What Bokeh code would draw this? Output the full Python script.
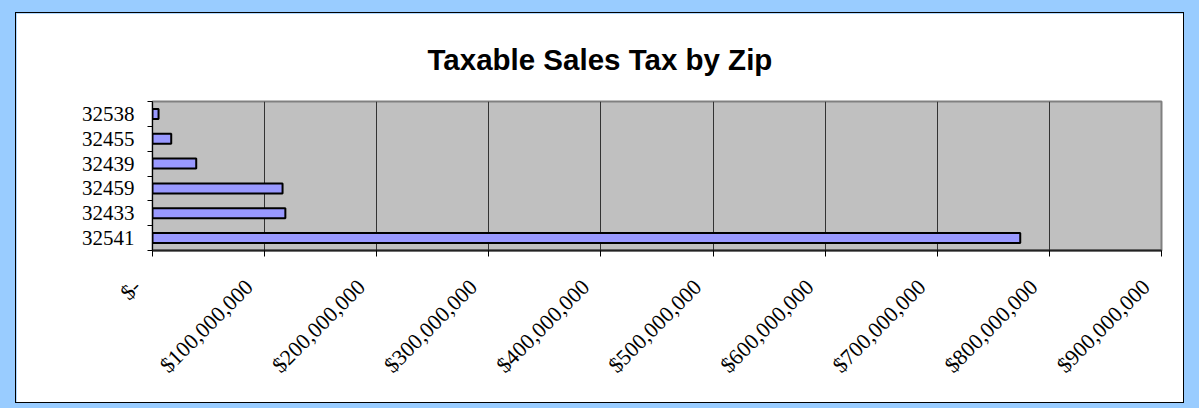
import math
from bokeh.plotting import figure
from bokeh.layouts import column
from bokeh.models import FixedTicker, Range1d, Title
from bokeh.embed import file_html
from bokeh.resources import INLINE

# ---- data ----
zips = ["32541", "32433", "32459", "32439", "32455", "32538"]
sales = [774_000_000, 118_500_000, 116_000_000, 39_000_000, 16_700_000, 5_400_000]
x_tick_values = [0, 100_000_000, 200_000_000, 300_000_000, 400_000_000,
                 500_000_000, 600_000_000, 700_000_000, 800_000_000, 900_000_000]
x_tick_labels = ["$-", "$100,000,000", "$200,000,000", "$300,000,000", "$400,000,000",
                 "$500,000,000", "$600,000,000", "$700,000,000", "$800,000,000", "$900,000,000"]
title_text = "Taxable Sales Tax by Zip"

ypos = [i + 0.5 for i in range(len(zips))]
ybounds = [i for i in range(len(zips) + 1)]

p = figure(width=1167, height=389, output_backend="svg", toolbar_location=None,
           x_range=Range1d(0, x_tick_values[-1]), y_range=Range1d(0, len(zips)),
           min_border_left=136, min_border_right=22, min_border_top=88, min_border_bottom=152)
p.title = Title(text=title_text, align="left", vertical_align="top", text_font="Liberation Sans",
                text_font_size="29.5px", text_font_style="bold", text_color="black",
                standoff=48, offset=275)
p.background_fill_color = "#C0C0C0"
p.border_fill_color = "white"
p.outline_line_color = "#808080"
p.outline_line_width = 2

p.hbar(y=ypos, right=sales, left=0, height=0.4, fill_color="#9999FF",
       line_color="black", line_width=2)

pad = "\u00a0" * 4
xt = FixedTicker(ticks=x_tick_values, minor_ticks=[])
p.xaxis.ticker = xt
p.xaxis.major_label_overrides = {v: l + pad for v, l in zip(x_tick_values, x_tick_labels)}
p.xaxis.major_label_orientation = math.pi / 4
p.xaxis.major_label_text_font = "Liberation Serif"
p.xaxis.major_label_text_font_size = "22px"
p.xaxis.major_label_text_color = "black"
p.xaxis.major_label_standoff = 11
p.xaxis.major_tick_out = 6
p.xaxis.major_tick_in = 0
p.xaxis.major_tick_line_color = "black"
p.xaxis.axis_line_color = "#222222"
p.xaxis.axis_line_width = 2
p.xaxis.minor_tick_line_color = None

yt = FixedTicker(ticks=ypos, minor_ticks=ybounds)
p.yaxis.ticker = yt
p.yaxis.major_label_overrides = {v: z for v, z in zip(ypos, zips)}
p.yaxis.major_label_text_font = "Liberation Serif"
p.yaxis.major_label_text_font_size = "21px"
p.yaxis.major_label_text_color = "black"
p.yaxis.major_tick_out = 0
p.yaxis.major_tick_in = 0
p.yaxis.minor_tick_out = 5
p.yaxis.minor_tick_in = 0
p.yaxis.minor_tick_line_color = "black"
p.yaxis.major_label_standoff = 13
p.yaxis.axis_line_color = "black"
p.yaxis.axis_line_width = 1

p.xgrid.ticker = xt
p.xgrid.grid_line_color = "#333333"
p.xgrid.grid_line_width = 1
p.ygrid.grid_line_color = None

p.styles = {"outline": "1px solid black"}

page = column(p, width=1199, height=408,
              styles={"background-color": "#99CCFF", "padding": "13px 16px 6px 16px",
                      "box-sizing": "border-box"})

open("out.html", "w").write(file_html(page, INLINE))
